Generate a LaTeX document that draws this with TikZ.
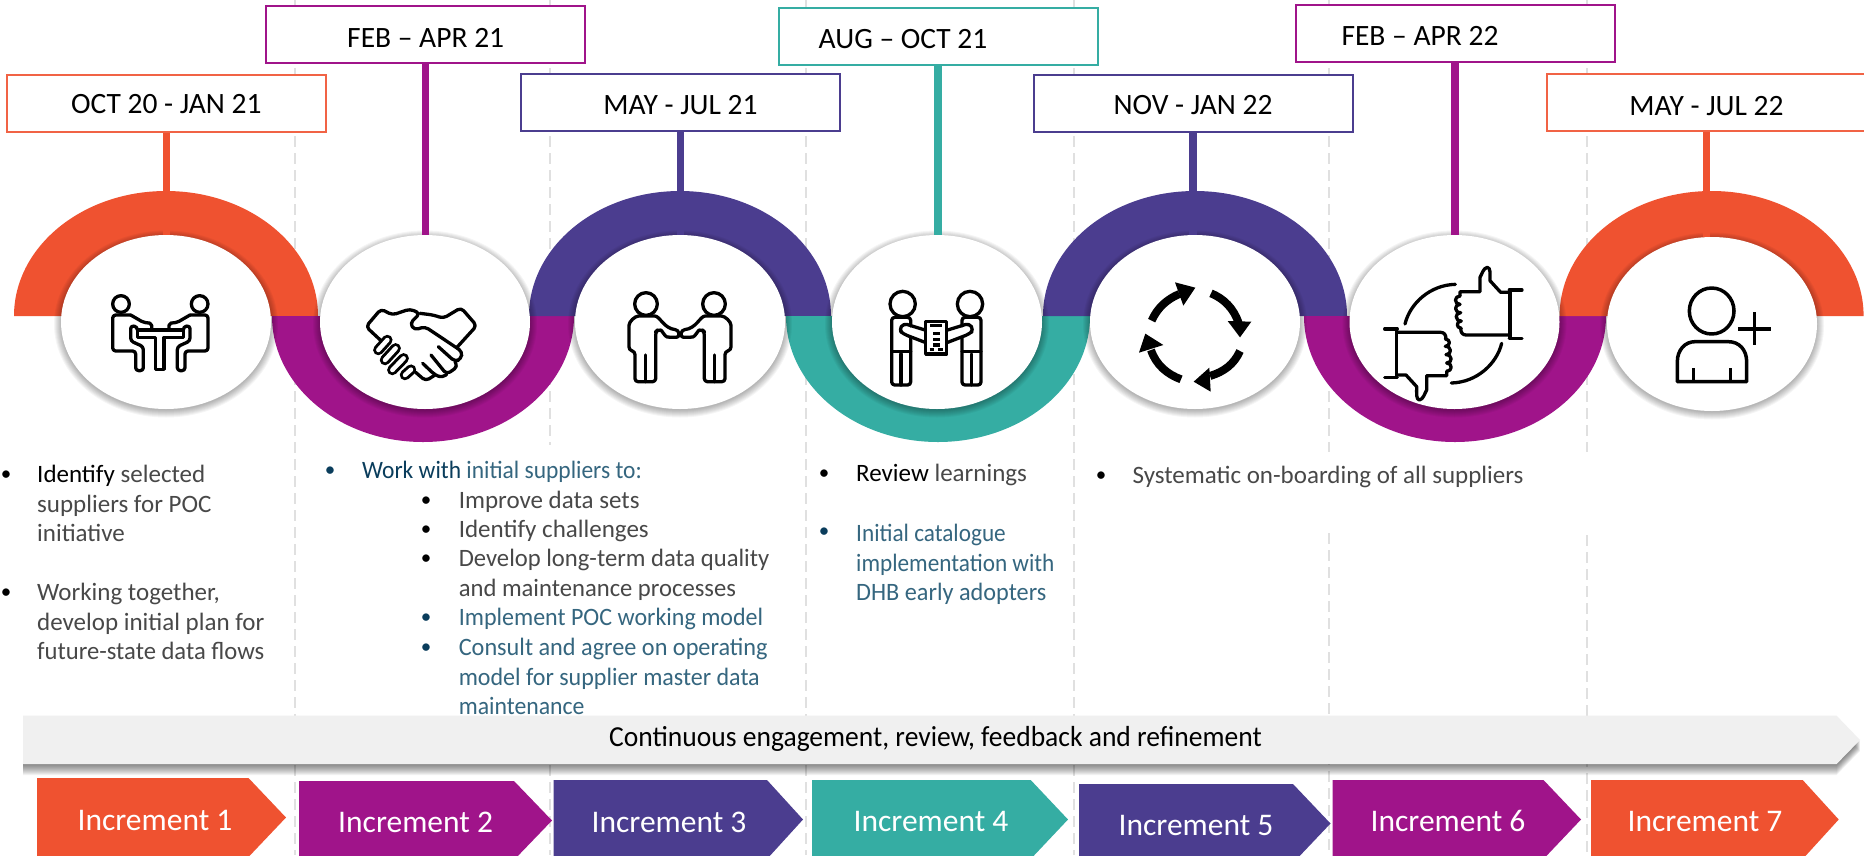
\documentclass[tikz,border=0pt]{standalone}
\usepackage{fontspec}
\usepackage{graphicx}
\setmainfont{Carlito}
\usetikzlibrary{shapes.geometric}
\definecolor{cOr}{HTML}{EF5230}
\definecolor{cPu}{HTML}{A0148A}
\definecolor{cIn}{HTML}{4B3D8F}
\definecolor{cTe}{HTML}{35ADA3}
\definecolor{cTx}{HTML}{484848}
\definecolor{cBl}{HTML}{35667F}
\definecolor{cDk}{HTML}{0A3D5C}
\definecolor{cDa}{HTML}{E0E0E0}
\definecolor{cBar}{HTML}{F0F0F0}
\newcommand{\bodyfont}{\fontsize{25}{29.5}\selectfont}
\newcommand{\sq}[2]{\scalebox{#1}[1]{#2}}
\newcommand{\halfup}[3]{\fill[#3] (#1-#2,316) arc[start angle=180,end angle=360,x radius=#2,y radius=125] -- cycle;}
\newcommand{\halfdn}[3]{\fill[#3] (#1-#2,316) arc[start angle=180,end angle=0,x radius=#2,y radius=126] -- cycle;}
\newcommand{\softring}[3]{\foreach \d in {0,...,7}{\fill[black,opacity=.04] (#1,#2+2) ellipse[x radius=#3+7-\d,y radius=87+6.5-\d];}}
\newcommand{\chev}[5]{\fill[#5] (#1,#4) -- (#2,#4) -- (#3,#4+39.5) -- (#2,#4+79) -- (#1,#4+79) -- cycle;}
\newcommand{\finger}[4]{\draw[black,line width=10.5pt,line cap=round] (#1,#2) -- (#3,#4); \draw[white,line width=4.5pt,line cap=round] (#1,#2) -- (#3,#4);}
\newcommand{\thumbicon}{%
 \draw[icn] (240,108) -- (240,95) -- (300,95) -- (300,52) .. controls (306,42) and (310,24) .. (322,22) .. controls (332,24) and (330,40) .. (330,62) -- (362,97) -- (390,97);
 \draw[icn] (390,225) -- (258,225) .. controls (248,225) and (242,218) .. (242,205);
 \draw[icn] (240,108) .. controls (222,108) and (222,133) .. (240,133) .. controls (222,133) and (222,158) .. (242,158) .. controls (224,158) and (224,183) .. (244,183) .. controls (228,183) and (228,205) .. (244,205);
 \draw[icn] (390,90) -- (390,235);
 \draw[icn] (388,90) -- (426,90);
 \draw[icn] (388,235) -- (426,235);
 \draw[icn] (75,192) .. controls (90,130) and (150,75) .. (226,73);
}
\newcommand{\shakeguy}{%
 \draw[icn] (93,72) circle[radius=34];
 \draw[icn,rounded corners=3pt] (60,215) -- (42,210) -- (42,145) .. controls (42,125) and (60,108) .. (80,108) -- (110,108) .. controls (135,108) and (145,145) .. (190,150) -- (193,172) -- (165,172) .. controls (150,170) and (140,150) .. (128,150) -- (122,155) -- (122,305) -- (60,305) -- cycle;
 \draw[icn] (92,225) -- (92,305);
}
\newcommand{\docguy}{%
 \draw[icn] (83,72) circle[radius=38];
 \draw[icn,rounded corners=3pt] (107,172) -- (107,315) -- (50,315) -- (50,112) -- (107,112) -- (107,138);
 \draw[icn] (50,215) -- (107,215);
 \draw[icn] (78,222) -- (78,315);
 \draw[icn,rounded corners=4pt] (150,150) -- (85,130) -- (72,150) -- (85,162) -- (150,187);
}
\tikzset{
 dashln/.style={cDa,line width=2pt,dash pattern=on 11pt off 6pt},
 wire/.style={line width=7.5pt},
 disc/.style={ellipse,fill=white,inner sep=0pt,minimum width=210pt,minimum height=174pt},
 datebox/.style={draw,fill=white,line width=2pt,minimum width=319pt,minimum height=57pt,inner sep=0pt,text=black,text depth=0pt,font=\fontsize{29.5}{33}\selectfont},
 inctxt/.style={text=white,inner sep=0pt,font=\fontsize{31.5}{35}\selectfont},
 bodytxt/.style={anchor=north west,inner sep=0pt,align=left,text=cTx,font=\bodyfont},
 dotb/.style={anchor=center,inner sep=0pt,font=\fontsize{21}{25}\selectfont,text=black},
 icn/.style={draw=black,line width=3.3pt,line cap=round,line join=round},
 arr/.style={draw=black,line width=8pt},
}
\begin{document}
\begin{tikzpicture}[x=1pt,y=-1pt]
\useasboundingbox (0,0) rectangle (1864,855);
\clip (0,0) rectangle (1864,855);
\fill[white] (0,0) rectangle (1864,855);
% dashed guide lines
\coordinate (g1t) at (295,0); \coordinate (g1b) at (295,855);
\coordinate (g2t) at (550,0); \coordinate (g2b) at (550,445);
\coordinate (g2c) at (550,765); \coordinate (g2d) at (550,855);
\coordinate (g3t) at (806,0); \coordinate (g3b) at (806,855);
\coordinate (g4t) at (1074,0); \coordinate (g4b) at (1074,855);
\coordinate (g5t) at (1329,0); \coordinate (g5b) at (1329,452);
\coordinate (g5c) at (1329,533); \coordinate (g5d) at (1329,855);
\coordinate (g6t) at (1587,0); \coordinate (g6b) at (1587,452);
\coordinate (g6c) at (1587,535); \coordinate (g6d) at (1587,855);
\draw[dashln] (g1t) -- (g1b);
\draw[dashln] (g2t) -- (g2b);
\draw[dashln] (g2c) -- (g2d);
\draw[dashln] (g3t) -- (g3b);
\draw[dashln] (g4t) -- (g4b);
\draw[dashln] (g5t) -- (g5b);
\draw[dashln] (g5c) -- (g5d);
\draw[dashln] (g6t) -- (g6b);
\draw[dashln] (g6c) -- (g6d);
% ribbon
\halfup{166}{152}{cOr}
\halfdn{423}{151}{cPu}
\halfup{680}{151}{cIn}
\halfdn{938}{152}{cTe}
\halfup{1195}{152}{cIn}
\halfdn{1455}{151}{cPu}
\halfup{1711.6}{152}{cOr}
% soft shadows
\softring{166}{322}{105}
\softring{425}{322}{105}
\softring{680}{322}{105}
\softring{937}{322}{105}
\softring{1195}{322}{105}
\softring{1454.5}{322}{105}
\softring{1712}{324}{105}
% discs
\node[disc] (c1) at (166,322) {};
\node[disc] (c2) at (425,322) {};
\node[disc] (c3) at (680,322) {};
\node[disc] (c4) at (937,322) {};
\node[disc] (c5) at (1195,322) {};
\node[disc] (c6) at (1454.5,322) {};
\node[disc] (c7) at (1712,324) {};
% date boxes
\node[datebox,draw=cOr!90!white,text height=20pt] (b1) at (166.3,103.5) {OCT 20 - JAN 21};
\node[datebox,draw=cPu,text height=26pt] (b2) at (425.7,34.5) {FEB – APR 21};
\node[datebox,draw=cIn,text height=24pt] (b3) at (680.5,102.5) {MAY - JUL 21};
\node[datebox,draw=cTe,text height=24pt] (b4) at (938,36.5) {\hspace*{-70pt}AUG – OCT 21};
\node[datebox,draw=cIn,text height=22pt] (b5) at (1193,103.5) {NOV - JAN 22};
\node[datebox,draw=cPu,text height=24pt] (b6) at (1455,33.5) {\hspace*{-70pt}FEB – APR 22};
\node[datebox,draw=cOr!90!white,text height=26pt] (b7) at (1706.5,102.5) {MAY - JUL 22};
% stems
\draw[wire,cOr] (b1.south) -- (b1.south |- c1.north);
\draw[wire,cPu] (b2.south) -- (b2.south |- c2.north);
\draw[wire,cIn] (b3.south) -- (b3.south |- c3.north);
\draw[wire,cTe] (b4.south) -- (b4.south |- c4.north);
\draw[wire,cIn] (b5.south) -- (b5.south |- c5.north);
\draw[wire,cPu] (b6.south) -- (b6.south |- c6.north);
\draw[wire,cOr] (b7.south) -- (b7.south |- c7.north);
% icon 1: meeting at table
\begin{scope}[shift={(100,280)},scale=1/3]
 \draw[icn] (63,72) circle[radius=25];
 \draw[icn] (299,72) circle[radius=25];
 \draw[icn,rounded corners=3pt] (92,105) -- (38,105) -- (38,213) -- (107,213) -- (107,272) -- (130,272) -- (130,200) -- (92,183) -- (92,137) -- (112,140) -- (112,150);
 \draw[icn,rounded corners=3pt] (270,105) -- (324,105) -- (324,213) -- (255,213) -- (255,272) -- (232,272) -- (232,200) -- (270,183) -- (270,137) -- (250,140) -- (250,150);
 \draw[icn,rounded corners=2pt] (92,105) -- (130,127) -- (155,130) -- (155,150);
 \draw[icn,rounded corners=2pt] (270,105) -- (232,127) -- (207,130) -- (207,150);
 \draw[icn] (112,150) -- (250,150) -- (250,172) -- (192,172) -- (192,268) -- (166,268) -- (166,172) -- (112,172) -- cycle;
\end{scope}
% icon 2: handshake
\begin{scope}[shift={(355,295)},scale=1/3]
 \draw[icn,rounded corners=4pt] (78,137) -- (33,95) -- (78,42) -- (112,60) -- (165,42) -- (195,55) -- (165,85) -- (178,105) -- (210,95) -- (322,170) -- (318,192) -- (300,200) -- (250,155);
 \draw[icn,rounded corners=4pt] (195,55) -- (235,60) -- (265,70) -- (318,38) -- (365,92) -- (305,158);
 \draw[icn,rounded corners=4pt] (300,200) -- (308,215) -- (275,238) -- (228,180);
 \draw[icn,rounded corners=4pt] (275,238) -- (262,248) -- (240,240) -- (203,205);
 \draw[icn,rounded corners=4pt] (240,240) -- (212,258) -- (182,232);
 \finger{168}{224}{150}{240}
 \finger{146}{190}{112}{225}
 \finger{122}{160}{90}{195}
 \finger{97}{135}{70}{165}
\end{scope}
% icon 3: two people shaking hands
\begin{scope}[shift={(615,280)},scale=1/3]
 \shakeguy
 \begin{scope}[shift={(390,0)},xscale=-1]
 \shakeguy
 \end{scope}
\end{scope}
% icon 4: two people with a document
\begin{scope}[shift={(875,280)},scale=1/3]
 \docguy
 \begin{scope}[shift={(368,0)},xscale=-1]
 \docguy
 \end{scope}
 \draw[icn,line width=3.5pt] (152,125) rectangle (215,222);
 \draw[icn,line width=3.5pt,line cap=butt] (166,137) -- (200,137);
 \draw[icn,line width=3.5pt,line cap=butt] (174,160) -- (196,160);
 \draw[icn,line width=3.5pt,line cap=butt] (174,178) -- (196,178);
 \draw[icn,line width=3.5pt,line cap=butt] (174,195) -- (196,195);
 \draw[icn,line width=3.5pt,line cap=butt] (164,208) -- (177,208);
 \draw[icn,line width=3.5pt,line cap=butt] (190,208) -- (204,208);
\end{scope}
% icon 5: cycle arrows
\begin{scope}[shift={(1130,275)},scale=1/3]
 \draw[arr] (65,137) .. controls (82,98) and (112,72) .. (148,57);
 \fill (196,38) -- (135,22) -- (160,92) -- cycle;
 \draw[arr] (243,55) .. controls (280,70) and (312,100) .. (326,145);
 \fill (330,187) -- (293,138) -- (364,140) -- cycle;
 \draw[arr] (330,228) .. controls (312,268) and (282,290) .. (240,303);
 \fill (191,320) -- (238,278) -- (242,350) -- cycle;
 \draw[arr] (153,313) .. controls (112,298) and (78,270) .. (63,225);
 \fill (46,176) -- (27,233) -- (100,210) -- cycle;
\end{scope}
% icon 6: thumbs
\begin{scope}[shift={(1380,260)},scale=1/3]
 \thumbicon
 \begin{scope}[rotate around={180:(220,221)}]
 \thumbicon
 \end{scope}
\end{scope}
% icon 7: add person
\begin{scope}[shift={(1660,280)},scale=1/3]
 \draw[icn,line width=3.5pt] (155,93) ellipse[x radius=67,y radius=69];
 \draw[icn,line width=3.5pt,line cap=butt] (235,147) -- (332,147);
 \draw[icn,line width=3.5pt,line cap=butt] (283,97) -- (283,195);
 \draw[icn,line width=3.5pt] (52,305) -- (52,245) .. controls (52,210) and (75,185) .. (105,185) -- (205,185) .. controls (238,185) and (260,210) .. (260,245) -- (260,305) -- cycle;
 \draw[icn,line width=3.5pt,line cap=butt] (100,265) -- (100,305);
 \draw[icn,line width=3.5pt,line cap=butt] (212,265) -- (212,305);
\end{scope}
% body texts
\node[dotb] (d1) at (6,476) {•};
\node[bodytxt] (t1) at (37,465) {\textcolor{black}{Identify} selected\\suppliers for POC\\initiative};
\node[dotb] (d2) at (6,594) {•};
\node[bodytxt] (t2) at (37,583) {Working together,\\develop initial plan for\\\sq{.985}{future-state data flows}};
\node[dotb,text=cDk] (d3) at (330,472) {•};
\node[bodytxt,text=cBl] (t3) at (362,461) {\sq{.94}{\textcolor{cDk}{Work with} initial suppliers to:}};
\node[dotb] (d4) at (426,502) {•};
\node[bodytxt] (t4) at (458.6,491) {Improve data sets};
\node[dotb] (d5) at (426,531) {•};
\node[bodytxt] (t5) at (458.6,520) {Identify challenges};
\node[dotb] (d6) at (426,560) {•};
\node[bodytxt] (t6) at (458.6,549) {\sq{.985}{Develop long-term data quality}\\\sq{.985}{and maintenance processes}};
\node[dotb,text=cDk] (d7) at (426,619) {•};
\node[bodytxt,text=cBl] (t7) at (458.6,608) {\sq{.96}{Implement POC working model}};
\node[dotb,text=cDk] (d8) at (426,649) {•};
\node[bodytxt,text=cBl] (t8) at (458.6,638) {\sq{.97}{Consult and agree on operating}\\\sq{.96}{model for supplier master data}\\\sq{.95}{maintenance}};
\node[dotb] (d9) at (824,475) {•};
\node[bodytxt] (t9) at (856,464) {\textcolor{black}{Review} learnings};
\node[dotb,text=cDk] (d10) at (824,533) {•};
\node[bodytxt,text=cBl] (t10) at (856,524) {\sq{.93}{Initial catalogue}\\\sq{.93}{implementation with}\\\sq{.97}{DHB early adopters}};
\node[dotb] (d11) at (1101,477) {•};
\node[bodytxt] (t11) at (1132.4,465.5) {Systematic on-boarding of all suppliers};
% bar with shadow
\foreach \d in {1,...,11}{\fill[black,opacity=.05] (23,715.7+\d) -- (1836.6,715.7+\d) -- (1860,740+\d) -- (1836.6,764+\d) -- (23,764+\d) -- cycle;}
\fill[cBar] (23,715.7) -- (1836.6,715.7) -- (1860,740) -- (1836.6,764) -- (23,764) -- cycle;
\node[inner sep=0pt,text=black,font=\fontsize{29}{33}\selectfont] (bartxt) at (935.5,739) {\sq{.95}{Continuous engagement, review, feedback and refinement}};
% increments
\chev{37}{248.5}{286}{778}{cOr}
\chev{299}{514}{552}{781}{cPu}
\chev{553.6}{767}{803}{780}{cIn}
\chev{812}{1030.7}{1068}{780}{cTe}
\chev{1079}{1293}{1330.5}{784}{cIn}
\chev{1332.6}{1543.5}{1581}{780}{cPu}
\chev{1591}{1802.7}{1838.7}{780}{cOr}
\node[inctxt] (i1) at (155,820) {Increment 1};
\node[inctxt] (i2) at (415.6,822) {Increment 2};
\node[inctxt] (i3) at (669,822) {Increment 3};
\node[inctxt] (i4) at (931,821) {Increment 4};
\node[inctxt] (i5) at (1196,825) {Increment 5};
\node[inctxt] (i6) at (1448,821) {Increment 6};
\node[inctxt] (i7) at (1705,821) {Increment 7};
\end{tikzpicture}
\end{document}
